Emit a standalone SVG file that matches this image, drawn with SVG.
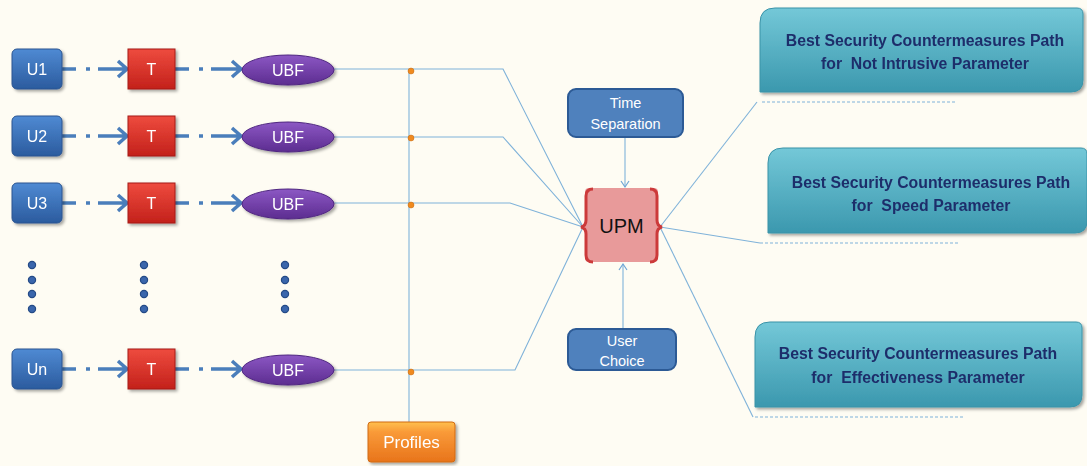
<svg xmlns="http://www.w3.org/2000/svg" width="1087" height="466" viewBox="0 0 1087 466">
<defs>
<linearGradient id="gBlue" x1="0" y1="0" x2="0" y2="1"><stop offset="0" stop-color="#4F8AD3"/><stop offset="1" stop-color="#2B5B9E"/></linearGradient>
<linearGradient id="gRed" x1="0" y1="0" x2="0" y2="1"><stop offset="0" stop-color="#EE4B3E"/><stop offset="1" stop-color="#C3211B"/></linearGradient>
<linearGradient id="gPurple" x1="0" y1="0" x2="0" y2="1"><stop offset="0" stop-color="#8C58C4"/><stop offset="1" stop-color="#5C2C90"/></linearGradient>
<linearGradient id="gOrange" x1="0" y1="0" x2="0" y2="1"><stop offset="0" stop-color="#FFC04E"/><stop offset="0.25" stop-color="#F99A38"/><stop offset="1" stop-color="#E8741B"/></linearGradient>
<linearGradient id="gTeal" x1="0" y1="0" x2="0" y2="1"><stop offset="0" stop-color="#74C8D8"/><stop offset="1" stop-color="#3B98AE"/></linearGradient>
<filter id="sh" x="-10%" y="-10%" width="130%" height="140%"><feDropShadow dx="2" dy="2" stdDeviation="1.5" flood-color="#000" flood-opacity="0.35"/></filter>
<marker id="chev" markerWidth="10" markerHeight="10" refX="7" refY="5" orient="auto" markerUnits="userSpaceOnUse"><path d="M1,1 L7,5 L1,9" fill="none" stroke="#6FA6D6" stroke-width="1.2"/></marker>
<style>
.lbl{font-family:"Liberation Sans",Arial,sans-serif;fill:#fff;font-size:16px;text-anchor:middle}
.ubox{fill:url(#gBlue);stroke:#2A5490;stroke-width:1}
.tbox{fill:url(#gRed);stroke:#A51C17;stroke-width:1}
.ubf{fill:url(#gPurple);stroke:#4E2580;stroke-width:1}
.flow{fill:none;stroke:#4A7EBB;stroke-width:3.5}
.conn{fill:none;stroke:#7FB2D9;stroke-width:1.1}
.dash{fill:none;stroke:#7FB2D9;stroke-width:1;stroke-dasharray:3 2}
.junc{fill:#F08A1E;stroke:#C46810;stroke-width:0.5}
.dot{fill:#3A66AC;stroke:#244A86;stroke-width:1.2}
.side{fill:#4F81BD;stroke:#2C5A95;stroke-width:2}
.res{fill:url(#gTeal);stroke:#3A93A8;stroke-width:1}
.rtxt{font-family:"Liberation Sans",Arial,sans-serif;font-weight:bold;font-size:15.8px;fill:#1F2D6B;text-anchor:middle;white-space:pre}
</style>
</defs>
<rect width="1087" height="466" fill="#FEFCF3"/>

<g id="connectors">
  <g id="flows">
    <path class="flow" d="M62,69 H76 M86,69 H90 M98,69 H126 M118,61 L127,69 L118,77 M175,69 H189 M199,69 H203 M211,69 H240 M232,61 L241,69 L232,77"/>
    <path class="flow" d="M62,136 H76 M86,136 H90 M98,136 H126 M118,128 L127,136 L118,144 M175,136 H189 M199,136 H203 M211,136 H240 M232,128 L241,136 L232,144"/>
    <path class="flow" d="M62,203 H76 M86,203 H90 M98,203 H126 M118,195 L127,203 L118,211 M175,203 H189 M199,203 H203 M211,203 H240 M232,195 L241,203 L232,211"/>
    <path class="flow" d="M62,369 H76 M86,369 H90 M98,369 H126 M118,361 L127,369 L118,377 M175,369 H189 M199,369 H203 M211,369 H240 M232,361 L241,369 L232,377"/>
  </g>
  <path class="conn" d="M409,69 V422"/>
  <path class="conn" d="M334,69 H503 L583,227"/>
  <path class="conn" d="M334,137 H503 L583,227"/>
  <path class="conn" d="M334,203 H510 L583,227"/>
  <path class="conn" d="M334,370 H515 L583,227"/>
  <path class="conn" d="M660,227 L757,102"/>
  <path class="conn" d="M660,227 L760,243"/>
  <path class="conn" d="M660,227 L753,417"/>
  <path class="dash" d="M762,102 H955"/>
  <path class="dash" d="M760,243 H960"/>
  <path class="dash" d="M755,417 H963"/>
  <path class="conn" d="M625,137 V187" marker-end="url(#chev)"/>
  <path class="conn" d="M623,329 V264" marker-end="url(#chev)"/>
  <circle class="junc" cx="411" cy="71" r="3"/>
  <circle class="junc" cx="411" cy="138" r="3"/>
  <circle class="junc" cx="411" cy="205" r="3"/>
  <circle class="junc" cx="411" cy="372" r="3"/>
</g>

<g id="U1" filter="url(#sh)"><rect class="ubox" x="12" y="49" width="50" height="40" rx="5"/><text class="lbl" x="37" y="75">U1</text></g>
<g id="U2" filter="url(#sh)"><rect class="ubox" x="12" y="116" width="50" height="40" rx="5"/><text class="lbl" x="37" y="142">U2</text></g>
<g id="U3" filter="url(#sh)"><rect class="ubox" x="12" y="183" width="50" height="40" rx="5"/><text class="lbl" x="37" y="209">U3</text></g>
<g id="Un" filter="url(#sh)"><rect class="ubox" x="12" y="349" width="50" height="40" rx="5"/><text class="lbl" x="37" y="375">Un</text></g>

<g id="T1" filter="url(#sh)"><rect class="tbox" x="128" y="49" width="47" height="40"/><text class="lbl" x="151.5" y="75">T</text></g>
<g id="T2" filter="url(#sh)"><rect class="tbox" x="128" y="116" width="47" height="40"/><text class="lbl" x="151.5" y="142">T</text></g>
<g id="T3" filter="url(#sh)"><rect class="tbox" x="128" y="183" width="47" height="40"/><text class="lbl" x="151.5" y="209">T</text></g>
<g id="Tn" filter="url(#sh)"><rect class="tbox" x="128" y="349" width="47" height="40"/><text class="lbl" x="151.5" y="375">T</text></g>

<g id="UBF1" filter="url(#sh)"><ellipse class="ubf" cx="288" cy="70" rx="46" ry="15"/><text class="lbl" x="288" y="76">UBF</text></g>
<g id="UBF2" filter="url(#sh)"><ellipse class="ubf" cx="288" cy="137" rx="46" ry="15"/><text class="lbl" x="288" y="143">UBF</text></g>
<g id="UBF3" filter="url(#sh)"><ellipse class="ubf" cx="288" cy="204" rx="46" ry="15"/><text class="lbl" x="288" y="210">UBF</text></g>
<g id="UBFn" filter="url(#sh)"><ellipse class="ubf" cx="288" cy="370" rx="46" ry="15"/><text class="lbl" x="288" y="376">UBF</text></g>

<g id="dots">
  <circle class="dot" cx="32" cy="265" r="3.6"/><circle class="dot" cx="32" cy="280" r="3.6"/><circle class="dot" cx="32" cy="294" r="3.6"/><circle class="dot" cx="32" cy="309" r="3.6"/>
  <circle class="dot" cx="144" cy="265" r="3.6"/><circle class="dot" cx="144" cy="280" r="3.6"/><circle class="dot" cx="144" cy="294" r="3.6"/><circle class="dot" cx="144" cy="309" r="3.6"/>
  <circle class="dot" cx="285" cy="265" r="3.6"/><circle class="dot" cx="285" cy="280" r="3.6"/><circle class="dot" cx="285" cy="294" r="3.6"/><circle class="dot" cx="285" cy="309" r="3.6"/>
</g>

<g id="Profiles" filter="url(#sh)"><rect x="368" y="422" width="87" height="40" rx="3" fill="url(#gOrange)" stroke="#D06A12" stroke-width="1"/><text class="lbl" x="411.5" y="448" style="font-size:17px">Profiles</text></g>

<g id="TimeSeparation"><rect class="side" x="568" y="89" width="115" height="48" rx="8"/><text class="lbl" x="625.5" y="108" style="font-size:14.5px">Time</text><text class="lbl" x="625.5" y="129" style="font-size:14.5px">Separation</text></g>

<g id="UserChoice"><rect class="side" x="568" y="329" width="108" height="41" rx="8"/><text class="lbl" x="622" y="346" style="font-size:14.5px">User</text><text class="lbl" x="622" y="366" style="font-size:14.5px">Choice</text></g>

<g id="UPM">
  <rect x="585" y="188" width="73" height="74" rx="4" fill="#E89A9A"/>
  <path d="M593,189 Q586,189 586,196 L586,220 Q586,226 581,227 Q586,228 586,234 L586,255 Q586,262 593,262 M650,189 Q657,189 657,196 L657,220 Q657,226 662,227 Q657,228 657,234 L657,255 Q657,262 650,262" fill="none" stroke="#CC3A3A" stroke-width="3"/>
  <text x="621.5" y="233" style="font-family:'Liberation Sans',Arial,sans-serif;font-size:20px;fill:#111;text-anchor:middle">UPM</text>
</g>

<g id="Result1" filter="url(#sh)"><path class="res" d="M775,8 H1077 Q1083,8 1083,14 V80 Q1083,92 1071,92 H760 V23 Q760,8 775,8 Z"/><text class="rtxt" x="925" y="46">Best Security Countermeasures Path</text><text class="rtxt" x="925" y="69">for  Not Intrusive Parameter</text></g>
<g id="Result2" filter="url(#sh)"><path class="res" d="M783,148 H1081 Q1087,148 1087,154 V221 Q1087,233 1075,233 H768 V163 Q768,148 783,148 Z"/><text class="rtxt" x="931" y="188">Best Security Countermeasures Path</text><text class="rtxt" x="931" y="211">for  Speed Parameter</text></g>
<g id="Result3" filter="url(#sh)"><path class="res" d="M770,322 H1076 Q1082,322 1082,328 V395 Q1082,407 1070,407 H755 V337 Q755,322 770,322 Z"/><text class="rtxt" x="918" y="359">Best Security Countermeasures Path</text><text class="rtxt" x="918" y="383">for  Effectiveness Parameter</text></g>
</svg>
